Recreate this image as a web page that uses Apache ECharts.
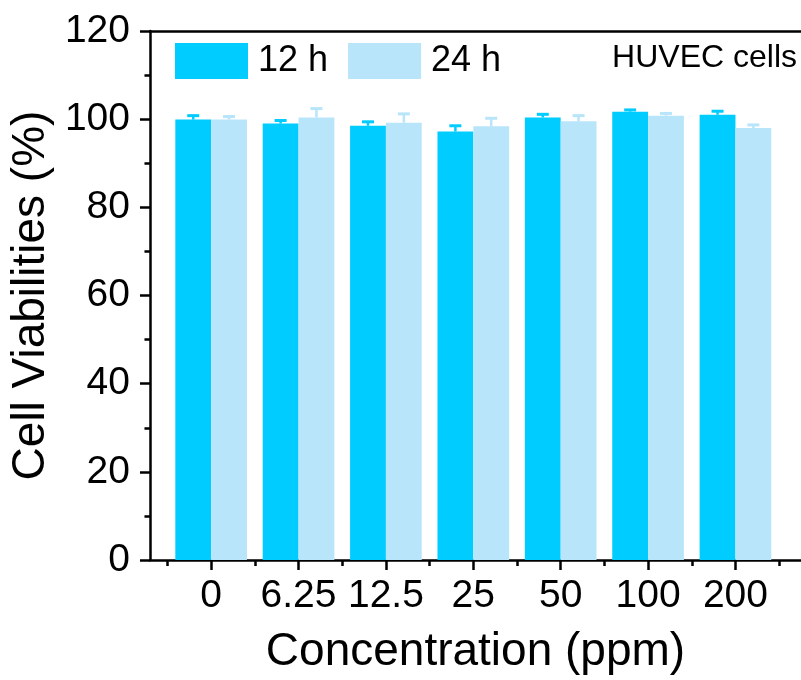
<!DOCTYPE html>
<html>
<head>
<meta charset="utf-8">
<title>Cell Viabilities</title>
<script src="https://cdn.jsdelivr.net/npm/echarts@6/dist/echarts.min.js"></script>
<style>
  html, body { margin: 0; padding: 0; background: #fff; }
  #chart { width: 801px; height: 680px; }
</style>
</head>
<body>
<div id="chart"></div>
<script>
// Concentration groups (ppm)
const categories = ['0', '6.25', '12.5', '25', '50', '100', '200'];

// Mean cell viability (%) and upper error (SD) for each incubation time
const viability12h = [99.9, 99.0, 98.5, 97.2, 100.4, 101.7, 101.0];
const error12h     = [0.9, 0.7, 0.9, 1.3, 0.7, 0.4, 0.8];
const viability24h = [99.9, 100.4, 99.2, 98.4, 99.5, 100.8, 98.0];
const error24h     = [0.7, 2.0, 2.0, 1.8, 1.3, 0.5, 0.7];

const seriesNames = ['12 h', '24 h'];
const yTicks = [0, 20, 40, 60, 80, 100, 120];

const FONT = '"Liberation Sans", Arial, Helvetica, sans-serif';
const COLOR_12 = '#00CCFF';
const COLOR_24 = '#B9E5FA';
const BAR_W = 0.41;          // bar width in category units
const catPos = categories.map((c, i) => i);
const minorPos = categories.map((c, i) => i - 0.5).concat([categories.length - 0.5]);

function makeData(values, errors) {
  return values.map((v, i) => [i, v, errors[i]]);
}

// Bar with a one-sided (upper) error bar; side = -1 draws left of the category, +1 right
function barRenderer(side, color) {
  return function (params, api) {
    const idx = api.value(0);
    const val = api.value(1);
    const err = api.value(2);
    const x0 = side < 0 ? idx - BAR_W : idx;
    const x1 = side < 0 ? idx : idx + BAR_W;
    const pTopLeft = api.coord([x0, val]);
    const pBottomRight = api.coord([x1, 0]);
    const cx = (pTopLeft[0] + pBottomRight[0]) / 2;
    const yErr = api.coord([idx, val + err])[1];
    const capHalf = 6;
    return {
      type: 'group',
      children: [
        {
          type: 'rect',
          shape: {
            x: pTopLeft[0],
            y: pTopLeft[1],
            width: pBottomRight[0] - pTopLeft[0],
            height: pBottomRight[1] - pTopLeft[1]
          },
          style: { fill: color }
        },
        {
          type: 'line',
          shape: { x1: cx, y1: pTopLeft[1], x2: cx, y2: yErr },
          style: { stroke: color, lineWidth: 2.5 }
        },
        {
          type: 'line',
          shape: { x1: cx - capHalf, y1: yErr, x2: cx + capHalf, y2: yErr },
          style: { stroke: color, lineWidth: 3 }
        }
      ]
    };
  };
}

const chart = echarts.init(document.getElementById('chart'), null, { renderer: 'canvas' });

const xMin = -0.7, xMax = 6.75;

chart.setOption({
  backgroundColor: '#ffffff',
  animation: false,
  textStyle: { fontFamily: FONT, color: '#000' },
  grid: { left: 147, top: 31, width: 663, height: 534, containLabel: false },
  legend: {
    data: seriesNames,
    left: 170,
    top: 38,
    icon: 'rect',
    itemWidth: 73,
    itemHeight: 36,
    itemGap: 20,
    textStyle: { fontFamily: FONT, fontSize: 36, color: '#000', padding: [0, 0, 0, 5] }
  },
  graphic: [
    {
      type: 'text',
      right: 4,
      top: 42,
      style: { text: 'HUVEC cells', font: '32px ' + FONT, fill: '#000' }
    }
  ],
  xAxis: [
    {
      type: 'value',
      min: xMin,
      max: xMax,
      position: 'bottom',
      name: 'Concentration (ppm)',
      nameLocation: 'middle',
      nameGap: 69,
      nameTextStyle: { fontFamily: FONT, fontSize: 46, color: '#000' },
      axisLine: { show: true, onZero: false, lineStyle: { color: '#000', width: 2.5 } },
      axisTick: { show: true, inside: false, length: 10, lineStyle: { color: '#000', width: 2.5 }, customValues: catPos },
      axisLabel: {
        show: true,
        margin: 17,
        fontFamily: FONT,
        fontSize: 39,
        color: '#000',
        customValues: catPos,
        formatter: function (v) { return categories[Math.round(v)]; }
      },
      splitLine: { show: false }
    },
    {
      // minor ticks between concentration groups
      type: 'value',
      min: xMin,
      max: xMax,
      position: 'bottom',
      axisLine: { show: false },
      axisTick: { show: true, inside: false, length: 6, lineStyle: { color: '#000', width: 2.5 }, customValues: minorPos },
      axisLabel: { show: false, customValues: minorPos },
      splitLine: { show: false }
    },
    {
      // top frame line
      type: 'value',
      min: xMin,
      max: xMax,
      position: 'top',
      axisLine: { show: true, onZero: false, lineStyle: { color: '#000', width: 2.5 } },
      axisTick: { show: false },
      axisLabel: { show: false },
      splitLine: { show: false }
    }
  ],
  yAxis: {
    type: 'value',
    min: yTicks[0],
    max: yTicks[yTicks.length - 1],
    interval: 20,
    name: 'Cell Viabilities (%)',
    nameLocation: 'middle',
    nameRotate: 90,
    nameGap: 86,
    nameTextStyle: { fontFamily: FONT, fontSize: 46, color: '#000' },
    axisLine: { show: true, onZero: false, lineStyle: { color: '#000', width: 2.5 } },
    axisTick: { show: true, inside: false, length: 10, lineStyle: { color: '#000', width: 2.5 } },
    minorTick: { show: true, splitNumber: 2, length: 5.5, lineStyle: { color: '#000', width: 2.5 } },
    axisLabel: { margin: 20, fontFamily: FONT, fontSize: 39, color: '#000' },
    splitLine: { show: false }
  },
  series: [
    {
      name: seriesNames[0],
      type: 'custom',
      xAxisIndex: 0,
      itemStyle: { color: COLOR_12 },
      renderItem: barRenderer(-1, COLOR_12),
      encode: { x: 0, y: 1 },
      data: makeData(viability12h, error12h)
    },
    {
      name: seriesNames[1],
      type: 'custom',
      xAxisIndex: 0,
      itemStyle: { color: COLOR_24 },
      renderItem: barRenderer(1, COLOR_24),
      encode: { x: 0, y: 1 },
      data: makeData(viability24h, error24h)
    }
  ]
});
</script>
</body>
</html>
